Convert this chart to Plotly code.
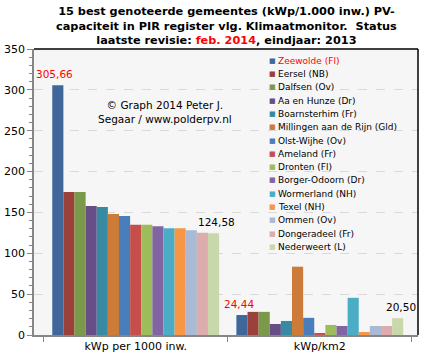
import plotly.graph_objects as go

# ---- data ----
categories = ["kWp per 1000 inw.", "kWp/km2"]
gemeenten = [
    "Zeewolde (Fl)", "Eersel (NB)", "Dalfsen (Ov)", "Aa en Hunze (Dr)",
    "Boarnsterhim (Fr)", "Millingen aan de Rijn (Gld)", "Olst-Wijhe (Ov)",
    "Ameland (Fr)", "Dronten (Fl)", "Borger-Odoorn (Dr)", "Wormerland (NH)",
    "Texel (NH)", "Ommen (Ov)", "Dongeradeel (Fr)", "Nederweert (L)",
]
kwp_per_1000 = [305.66, 175.0, 175.0, 158.0, 156.6, 148.0, 145.5, 134.8,
                134.8, 133.2, 130.7, 130.7, 128.3, 125.0, 124.58]
kwp_per_km2 = [24.44, 28.3, 28.3, 13.5, 17.2, 83.6, 21.0, 1.6,
               12.3, 11.0, 45.5, 3.7, 11.0, 11.0, 20.50]
colors = ["#3F679A", "#9C403B", "#7A9A4A", "#674E86", "#378AA2", "#CC7B38",
          "#4A7EBB", "#C64F4B", "#9CBD5A", "#8364A2", "#4BACC6", "#F79646",
          "#AAB9D4", "#DDACAC", "#C8D8AA"]
y_ticks = [0, 50, 100, 150, 200, 250, 300, 350]

FONT = "DejaVu Sans"
W, H = 431, 360
ML, MR, MT, MB = 34, 13, 49, 25
PW, PH = W - ML - MR, H - MT - MB
BARGAP = 0.094


def fmt(v):
    return f"{v:.2f}".replace(".", ",")


fig = go.Figure()
n = len(gemeenten)
for i, (name, a, b, c) in enumerate(zip(gemeenten, kwp_per_1000, kwp_per_km2, colors)):
    fig.add_trace(go.Bar(
        name=name, x=categories, y=[a, b], marker=dict(color=c, line=dict(width=0)),
        showlegend=False, hoverinfo="name+y",
    ))


def px_x(px):
    return (px - ML) / PW


def px_y(py):
    return (H - MB - py) / PH


annotations = []

# title (three lines)
annotations.append(dict(
    x=px_x(226), y=px_y(26), xref="paper", yref="paper", showarrow=False,
    text="<b>15 best genoteerde gemeentes (kWp/1.000 inw.) PV-<br>capaciteit in PIR register vlg. Klimaatmonitor.  Status<br>laatste revisie: <span style='color:red'>feb. 2014</span>, eindjaar: 2013</b>",
    xanchor="center", yanchor="middle", align="center",
    font=dict(family=FONT, size=11.3, color="black")))

# value labels above first and last bar of each group (data coordinates)
bar_px = PW / len(categories) * (1 - BARGAP) / n
for idx, col in [(0, "red"), (n - 1, "black")]:
    for cat, vals in zip(categories, [kwp_per_1000, kwp_per_km2]):
        annotations.append(dict(
            x=cat, y=vals[idx], xref="x", yref="y", text=fmt(vals[idx]),
            showarrow=False, xanchor="center", yanchor="bottom",
            xshift=(idx - (n - 1) / 2) * bar_px, yshift=3,
            font=dict(family=FONT, size=10.5, color=col)))

# compact legend, positioned from item index
leg_top, leg_step = 60.7, 13.3
for i, (name, c) in enumerate(zip(gemeenten, colors)):
    yc = px_y(leg_top + i * leg_step)
    annotations.append(dict(
        x=px_x(272.5), y=yc, xref="paper", yref="paper", text="■", showarrow=False,
        font=dict(family=FONT, size=7, color=c), xanchor="center", yanchor="middle"))
    annotations.append(dict(
        x=px_x(276), y=yc, xref="paper", yref="paper", text=name, showarrow=False,
        font=dict(family=FONT, size=9, color="red" if i == 0 else "black"),
        xanchor="left", yanchor="middle"))

annotations.append(dict(
    x=px_x(165), y=px_y(111.5), xref="paper", yref="paper",
    text="© Graph 2014 Peter J.<br>Segaar / www.polderpv.nl", showarrow=False,
    font=dict(family=FONT, size=10.5, color="black"), xanchor="center", yanchor="middle",
    align="center"))

fig.update_layout(
    width=W, height=H,
    margin=dict(l=ML, r=MR, t=MT, b=MB, pad=0, autoexpand=False),
    paper_bgcolor="white", plot_bgcolor="#F6F6F6",
    barmode="group", bargap=BARGAP, bargroupgap=0,
    font=dict(family=FONT, size=11, color="black"),
    annotations=annotations,
    showlegend=False,
    shapes=[
        dict(type="line", xref="paper", yref="paper", x0=0, x1=1, y0=1, y1=1,
             line=dict(color="black", width=1.5)),
        dict(type="line", xref="paper", yref="paper", x0=1, x1=1, y0=0, y1=1,
             line=dict(color="black", width=1.5)),
    ],
)
fig.update_yaxes(
    range=[0, 350], tickvals=y_ticks, showgrid=True, gridcolor="#D9D9D9",
    griddash="dash", gridwidth=1, showline=True, linecolor="#868686", linewidth=1.5,
    ticks="outside", ticklen=5, tickcolor="#868686", zeroline=False,
    tickfont=dict(family=FONT, size=11, color="black"),
    minor=dict(dtick=10, ticks="outside", ticklen=3, tickcolor="#868686", showgrid=False),
)
fig.update_xaxes(
    type="category", showline=True, linecolor="#868686", linewidth=1.5,
    ticks="outside", ticklen=5, tickcolor="#868686", tickson="boundaries",
    tickfont=dict(family=FONT, size=11, color="black"), showgrid=False,
)

fig.write_html("out.html", config={"displayModeBar": False},
               post_script="document.body.style.margin='0px';")
